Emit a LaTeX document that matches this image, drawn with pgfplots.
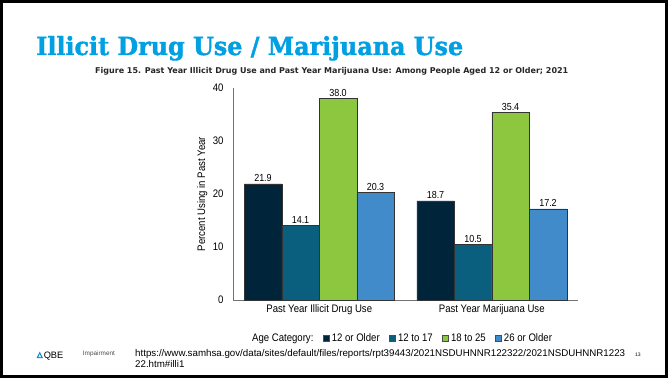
\documentclass[border=0pt]{standalone}
\usepackage{fontspec}
\usepackage{pgfplots}
\pgfplotsset{compat=1.18}
\setmainfont{Liberation Sans}
\newfontfamily\chartfont[FakeStretch=0.88]{Liberation Sans}
\newfontfamily\titlefont[FakeBold=1.6]{DejaVu Serif}
\newfontfamily\subfont{DejaVu Sans}
\definecolor{titleblue}{RGB}{0,160,227}
\definecolor{c1}{RGB}{0,37,58}
\definecolor{c2}{RGB}{10,94,126}
\definecolor{c3}{RGB}{141,198,63}
\definecolor{c4}{RGB}{66,139,202}
\definecolor{logoblue}{RGB}{0,140,214}
\begin{document}
\begin{tikzpicture}[x=1pt,y=1pt]
\useasboundingbox (0,0) rectangle (668,378);
\fill[white] (0,0) rectangle (668,378);
\node[anchor=base west, inner sep=0, text=titleblue] at (36,323) {\resizebox{427pt}{19pt}{\titlefont\bfseries Illicit Drug Use / Marijuana Use}};
\node[anchor=base west, inner sep=0, text=black!85] at (95,304.5) {\resizebox{473pt}{!}{\subfont\bfseries Figure 15. Past Year Illicit Drug Use and Past Year Marijuana Use: Among People Aged 12 or Older; 2021}};
\begin{axis}[
  at={(233pt,78pt)}, anchor=south west, scale only axis,
  width=345pt, height=212pt,
  xmin=-0.5, xmax=1.5, ymin=0, ymax=40,
  ybar=0pt, bar width=37.5pt,
  axis x line*=bottom, axis y line*=left,
  axis line style={draw=black!55, line width=0.8pt},
  major tick length=0pt,
  xtick={0,1}, xticklabels={Past Year Illicit Drug Use, Past Year Marijuana Use},
  ytick={0,10,20,30,40},
  font=\chartfont\fontsize{10.9}{12}\selectfont,
  /pgf/number format/assume math mode=true,
  yticklabel style={xshift=-6pt},
  xticklabel style={yshift=-1pt},
  ylabel={Percent Using in Past Year},
  ylabel style={at={(axis description cs:-0.089,0.5)}, anchor=center},
  nodes near coords={\pgfmathprintnumber[fixed,fixed zerofill,precision=1]{\pgfplotspointmeta}},
  every node near coord/.append style={font=\chartfont\fontsize{10.2}{12}\selectfont, text=black, inner sep=2pt},
  clip=false,
  legend columns=5,
  legend style={at={(axis description cs:0.49,-0.179)}, anchor=center, draw=none, fill=none,
    font=\chartfont\fontsize{10.9}{12}\selectfont,
    nodes={inner xsep=2.2pt},
    /tikz/every even column/.style={column sep=7.5pt}},
  legend image code/.code={\draw[#1,draw=black!70,line width=0.4pt] (0pt,-3pt) rectangle (6pt,3pt);},
]
\addlegendimage{empty legend}
\addlegendentry{Age Category:}
\addplot[fill=c1, draw=black!80, line width=0.5pt] coordinates {(0,21.9) (1,18.7)};
\addlegendentry{12 or Older}
\addplot[fill=c2, draw=black!80, line width=0.5pt] coordinates {(0,14.1) (1,10.5)};
\addlegendentry{12 to 17}
\addplot[fill=c3, draw=black!80, line width=0.5pt] coordinates {(0,38.0) (1,35.4)};
\addlegendentry{18 to 25}
\addplot[fill=c4, draw=black!80, line width=0.5pt] coordinates {(0,20.3) (1,17.2)};
\addlegendentry{26 or Older}
\end{axis}
% footer
\fill[logoblue] (36.5,19.8) -- (43,19.8) -- (39.75,26.3) -- cycle;
\fill[white] (38.4,21) -- (41.1,21) -- (39.75,23.8) -- cycle;
\node[anchor=base west, inner sep=0] at (43.6,19.8) {\resizebox{19.5pt}{6.5pt}{QBE}};
\node[anchor=west, inner sep=0, text=black!70] at (82.7,24) {\resizebox{32pt}{!}{Impairment}};
\node[anchor=base west, inner sep=0] at (135,22) {\resizebox{490pt}{!}{\fontsize{8.4}{10}\selectfont\begin{tabular}[t]{@{}l@{}}https://www.samhsa.gov/data/sites/default/files/reports/rpt39443/2021NSDUHNNR122322/2021NSDUHNNR1223\\22.htm\#illi1\end{tabular}}};
\node[anchor=base west, inner sep=0] at (635,22) {\fontsize{5}{6}\selectfont 13};
\draw[line width=3pt] (1.5,1.5) rectangle (666.5,376.5);
\end{tikzpicture}
\end{document}
